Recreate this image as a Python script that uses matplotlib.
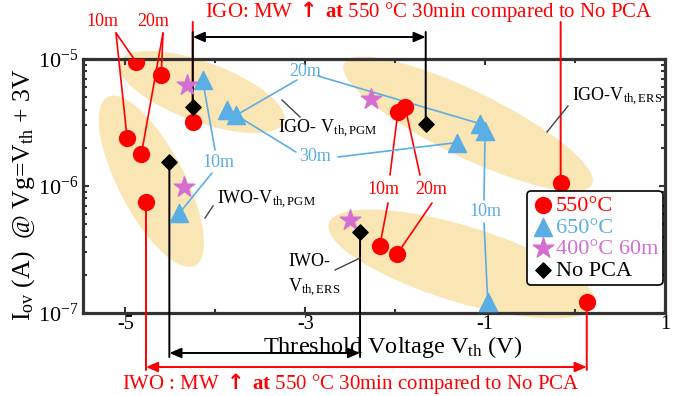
import matplotlib
matplotlib.use("Agg")
import matplotlib.pyplot as plt
from matplotlib.patches import Ellipse

plt.rcParams["font.family"] = ["Liberation Serif", "DejaVu Serif"]
plt.rcParams["mathtext.fontset"] = "custom"
plt.rcParams["mathtext.rm"] = "Liberation Serif"
plt.rcParams["mathtext.it"] = "Liberation Serif:italic"
plt.rcParams["mathtext.bf"] = "Liberation Serif:bold"
plt.rcParams["mathtext.sf"] = "DejaVu Sans:bold"
plt.rcParams["axes.unicode_minus"] = False

# data (Vth in V, Iov in A)
red_x = [-4.88, -4.60, -4.25, -4.98, -4.82, -4.77, -1.97, -1.89, -2.17, -1.98, -0.16, 0.13]
red_y = [9.5e-6, 7.5e-6, 3.2e-6, 2.4e-6, 1.8e-6, 7.5e-7, 3.8e-6, 4.2e-6, 3.4e-7, 2.9e-7, 1.06e-6, 1.22e-7]
blue_x = [-4.14, -3.87, -3.77, -4.40, -1.06, -1.00, -1.31, -0.97]
blue_y = [6.8e-6, 4.0e-6, 3.6e-6, 6.1e-7, 3.1e-6, 2.7e-6, 2.2e-6, 1.22e-7]
star_x = [-4.31, -4.35, -2.27, -2.50]
star_y = [6.2e-6, 9.8e-7, 4.8e-6, 5.4e-7]
pca_x = [-4.25, -4.51, -1.66, -2.39]
pca_y = [4.2e-6, 1.55e-6, 3.1e-6, 4.35e-7]

# highlight ellipses: centre (data), width/height (px), angle
ell_x = [-4.15, -4.71, -1.19, -1.26]
ell_y = [5.5e-6, 1.09e-6, 3.08e-6, 2.43e-7]
ell_w = [175, 190, 276, 278]
ell_h = [60, 66, 66, 76]
ell_a = [-20, -62.6, -26, -17]

RED = "#FF0000"
BLUE = "#5BAEE3"
PINK = "#D46FD1"
YEL = "#FAE6B4"
W, H = 676, 396


def P(x, y):
    return (x / W, 1 - y / H)


fig = plt.figure(figsize=(W / 100, H / 100), dpi=100)
ax = fig.add_axes([83 / W, 1 - 313 / H, 582 / W, 254 / H])
ax.set_yscale("log")
ax.set_xlim(-5.47, 1.0)
ax.set_ylim(1e-7, 1e-5)

for cx, cy, w, h, a in zip(ell_x, ell_y, ell_w, ell_h, ell_a):
    c = ax.transData.transform((cx, cy)) / fig.dpi
    e = Ellipse(c, w / 100, h / 100, angle=a, transform=fig.dpi_scale_trans,
                facecolor=YEL, edgecolor="none", zorder=0.5, clip_on=False)
    ax.add_patch(e)
ax.set_xlim(-5.47, 1.0)
ax.set_ylim(1e-7, 1e-5)

ax.scatter(red_x, red_y, s=130, marker="o", color=RED, zorder=5, label="550°C")
ax.scatter(blue_x, blue_y, s=170, marker="^", color=BLUE, zorder=5, label="650°C")
ax.scatter(star_x, star_y, s=240, marker="*", color=PINK, zorder=5, label="400°C 60m")
ax.scatter(pca_x, pca_y, s=60, marker="D", color="black", zorder=5, label="No PCA")

ax.set_xticks([-5, -3, -1, 1])
ax.set_xticks([-4, -2, 0], minor=True)
ax.set_xticklabels(["-5", "-3", "-1", "1"])
ax.tick_params(which="both", direction="in", top=True, right=True, width=1.5, color="#333333")
ax.tick_params(which="major", length=4, labelsize=14.5, pad=1.5)
ax.tick_params(which="minor", length=3)
ax.tick_params(axis="y", labelsize=16, pad=3)
for sp in ax.spines.values():
    sp.set_linewidth(2.3)
    sp.set_color("#333333")

fig.text(*P(393, 347), r"Threshold Voltage V$_{\rm th}$ (V)", fontsize=17.5, ha="center", va="center")
fig.text(*P(24, 195), r"I$_{\rm ov}$ (A)  @ Vg=V$_{\rm th}$ + 3V", fontsize=18.5,
         rotation=90, ha="center", va="center")


def leader(i_x, i_y, anchor, color, lw=1.2):
    ax.annotate("", xy=(i_x, i_y), xycoords="data", xytext=P(*anchor),
                textcoords="figure fraction", annotation_clip=False,
                arrowprops=dict(arrowstyle="-", color=color, lw=lw, shrinkA=0, shrinkB=0))


def vline(x, y, fy, color):
    ax.annotate("", xy=(x, y), xycoords="data", xytext=(x, P(0, fy)[1]),
                textcoords=("data", "figure fraction"), annotation_clip=False,
                arrowprops=dict(arrowstyle="-", color=color, lw=1.4, shrinkA=0, shrinkB=0))


def harrow(x1, x2, fy, color):
    yf = P(0, fy)[1]
    ax.annotate("", xy=(x2, yf), xycoords=("data", "figure fraction"), xytext=(x1, yf),
                textcoords=("data", "figure fraction"), annotation_clip=False,
                arrowprops=dict(arrowstyle="<|-|>,head_length=0.7,head_width=0.3",
                                color=color, lw=1.4, shrinkA=0, shrinkB=0))


# red time labels
fig.text(*P(102, 22), "10m", color=RED, fontsize=13, ha="center", va="center")
leader(red_x[0], red_y[0], (116, 33), RED)
leader(red_x[3], red_y[3], (116, 33), RED)
fig.text(*P(153, 22), "20m", color=RED, fontsize=13, ha="center", va="center")
leader(red_x[1], red_y[1], (163, 33), RED)
leader(red_x[4], red_y[4], (163, 33), RED)
fig.text(*P(383, 190), "10m", color=RED, fontsize=13, ha="center", va="center")
leader(red_x[6], red_y[6], (390, 175), RED)
leader(red_x[8], red_y[8], (388, 203), RED)
fig.text(*P(431, 190), "20m", color=RED, fontsize=13, ha="center", va="center")
leader(red_x[7], red_y[7], (420, 175), RED)
leader(red_x[9], red_y[9], (432, 203), RED)

# blue time labels
fig.text(*P(305, 72), "20m", color=BLUE, fontsize=13, ha="center", va="center")
leader(blue_x[2], blue_y[2], (297, 80), BLUE)
leader(blue_x[4], blue_y[4], (318, 76), BLUE)
fig.text(*P(315, 157), "30m", color=BLUE, fontsize=13, ha="center", va="center")
leader(blue_x[1], blue_y[1], (296, 152), BLUE)
leader(blue_x[6], blue_y[6], (338, 157), BLUE)
fig.text(*P(218, 162), "10m", color=BLUE, fontsize=13, ha="center", va="center")
leader(blue_x[0], blue_y[0], (215, 150), BLUE)
leader(blue_x[3], blue_y[3], (212, 173), BLUE)
fig.text(*P(485, 212), "10m", color=BLUE, fontsize=13, ha="center", va="center")
leader(blue_x[5], blue_y[5], (484, 200), BLUE)
leader(blue_x[7], blue_y[7], (484, 223), BLUE)

# region labels
GRAY = "#444444"
fig.text(*P(278, 129), r"IGO- V$_{\rm th,PGM}$", fontsize=13, va="center")
fig.add_artist(plt.Line2D([282 / W, 300 / W], [1 - 100 / H, 1 - 117 / H], color=GRAY, lw=1))
fig.text(*P(572, 97), r"IGO-V$_{\rm th,ERS}$", fontsize=13, va="center")
fig.add_artist(plt.Line2D([568 / W, 547 / W], [1 - 106 / H, 1 - 132 / H], color=GRAY, lw=1))
fig.text(*P(217, 200), r"IWO-V$_{\rm th,PGM}$", fontsize=13, va="center")
fig.add_artist(plt.Line2D([213 / W, 205 / W], [1 - 206 / H, 1 - 218 / H], color=GRAY, lw=1))
fig.text(*P(288, 262), "IWO-", fontsize=13, va="center")
fig.text(*P(288, 288), r"V$_{\rm th,ERS}$", fontsize=13, va="center")
fig.add_artist(plt.Line2D([335 / W, 360 / W], [1 - 270 / H, 1 - 258 / H], color=GRAY, lw=1))

# memory window arrows
vline(red_x[2], red_y[2], 22, RED)
vline(red_x[10], red_y[10], 22, RED)
vline(pca_x[0], pca_y[0], 32, "black")
vline(pca_x[2], pca_y[2], 32, "black")
harrow(pca_x[0], pca_x[2], 37, "black")
vline(pca_x[1], pca_y[1], 357, "black")
vline(pca_x[3], pca_y[3], 357, "black")
harrow(pca_x[1], pca_x[3], 353, "black")
vline(red_x[5], red_y[5], 370, RED)
vline(red_x[11], red_y[11], 370, RED)
harrow(red_x[5], red_x[11], 367, RED)

fig.text(*P(205, 11), r"IGO: MW $\mathsf{\uparrow}$ $\mathbf{at}$ 550 °C 30min compared to No PCA",
         color=RED, fontsize=15, va="center", ha="left")
fig.text(*P(351, 383), r"IWO : MW $\mathsf{\uparrow}$ $\mathbf{at}$ 550 °C 30min compared to No PCA",
         color=RED, fontsize=15, va="center", ha="center")

leg = ax.legend(loc="upper left", bbox_to_anchor=P(527, 191), bbox_transform=fig.transFigure,
                fontsize=16, frameon=True, fancybox=True, edgecolor="black", framealpha=1,
                handletextpad=0.1, labelspacing=0.05, borderpad=0.2, handlelength=1.0,
                borderaxespad=0, labelcolor=[RED, BLUE, PINK, "black"])
leg.get_frame().set_linewidth(1.2)
leg.set_zorder(6)

fig.savefig("out.png", dpi=100)
